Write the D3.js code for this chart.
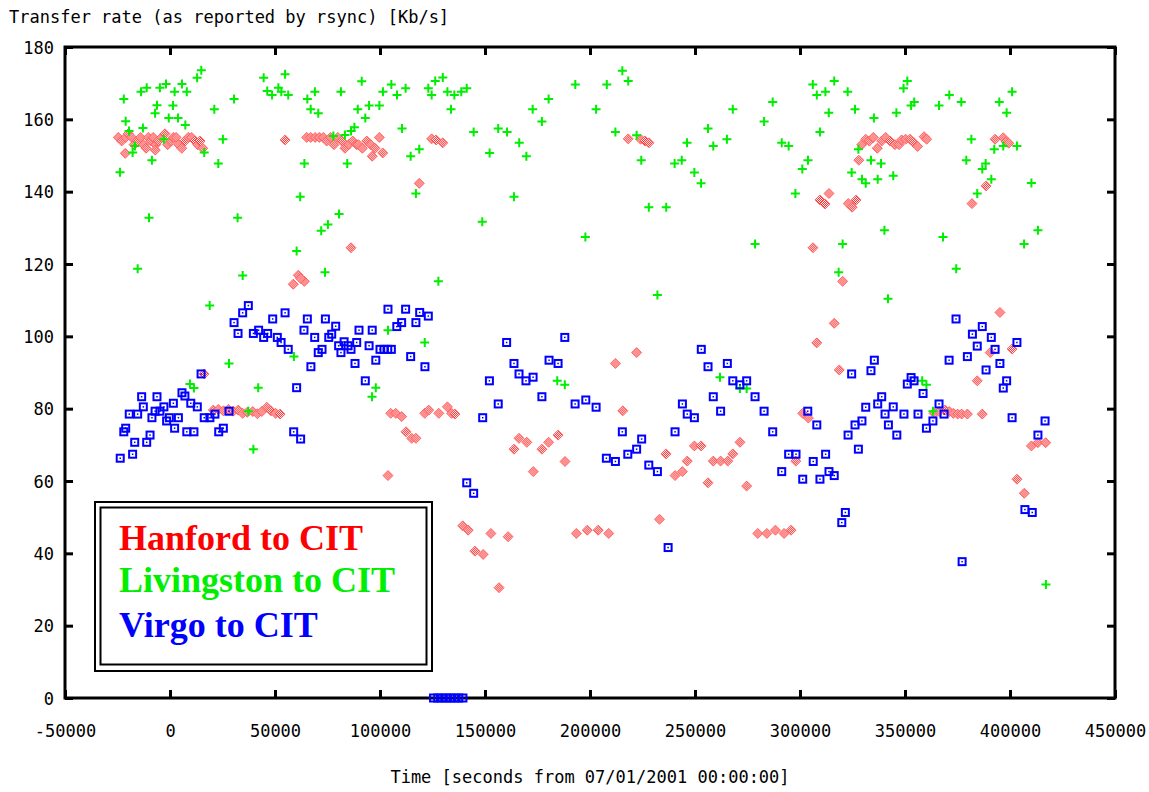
<!DOCTYPE html>
<html lang="en">
<head>
  <meta charset="UTF-8">
  <script src="https://d3js.org/d3.v7.min.js"></script>
  <title>Transfer rate</title>
  <style>
    body { margin: 0; background: #fff; }
    .mono { font-family: 'DejaVu Sans Mono', monospace; font-size: 17px; fill: #000; }
    .legend { font-family: 'Liberation Serif', 'Times New Roman', serif; font-weight: bold; font-size: 36px; }
  </style>
</head>
<body>
<svg width="1149" height="792"></svg>
<script>
// [time (s from 07/01/2001), rate (Kb/s)]
const hanford = [
  [-24600,155],[-23000,154],[-21100,155],[-19900,156],[-18200,155],[-17100,153],[-15600,154],[-14000,155],[-12700,153],[-11400,152],
  [-10300,155],[-9200,154],[-8000,155],[-6800,153],[-5600,154],[-4000,155],[-2400,156],[-1100,153],[300,154],[1600,155],
  [2900,155],[4100,153],[5600,152],[7100,154],[8700,155],[10300,155],[11900,154],[13200,153],[14300,154],[15600,152],
  [-21300,150.6],[-7000,151.5],[54800,154.3],
  [65100,155],[67000,155],[69100,155],[71100,155],[73000,155],[74600,154],[76500,155],[78100,153],[79900,155],[81800,154],
  [83300,152],[85100,153],[87000,154],[88900,153],[89700,153],[91600,152],[93700,154],[95600,153],[97600,152],[99700,155],
  [96300,149.8],[101300,150.7],[124600,154.6],[126700,154.3],[129900,153.5],[118700,142.3],[86200,124.5],
  [218200,154.6],[224100,154.5],[226200,154],[228100,153.5],[306200,124.5],[309500,137.7],[311900,136.6],[313800,139.5],
  [323000,136.7],[324800,135.7],[326700,137.7],[328000,148.7],
  [329400,153],[331300,154.5],[333000,154],[334900,155],[336800,152],[338900,154],[340800,155],[342900,154],[345200,153],
  [347200,153],[348400,154.3],[350300,154.5],[352400,154.5],[354300,153.5],[356000,152.5],[359100,155.2],[360300,154.5],
  [392900,154.5],[396800,154.9],[398200,153.8],[399400,153.4],[388600,141.6],[381900,136.7],
  [61100,116.9],[58700,114.4],[64000,115.2],[62200,116.0],[16200,89.6],
  [20600,79.6],[23000,79.8],[25400,79.4],[27800,79.8],[30100,79.3],[32500,79.6],[34600,78.7],[36800,79.0],[39400,79.2],
  [41600,78.6],[43700,79.2],[46100,80.4],[48100,79.4],[50300,78.7],[52400,78.5],
  [105100,78.7],[107500,78.7],[110300,77.8],[112400,73.6],[115100,71.8],[117100,71.8],[121300,78.7],[123200,79.6],
  [128000,78.7],[132100,80.5],[134100,78.7],[135700,78.5],[103800,61.5],[163800,68.8],[166200,71.8],[169900,70.7],
  [173000,62.6],[177100,68.8],[180300,70.7],[184800,72.7],[188100,65.4],[212100,92.5],[215600,79.4],
  [222200,95.5],[236200,67.5],[240500,61.5],[244000,62.6],[246300,65.5],[249700,69.7],[252900,69.7],[256200,59.5],
  [258700,65.5],[262200,65.5],[265600,65.5],[268000,67.5],[271400,70.7],[274600,58.6],[298000,65.5],[301300,78.7],
  [304000,77.4],[320300,115.2],[316300,103.6],[308000,98.2],[318700,90.7],
  [395200,106.6],[401000,96.5],[390600,95.5],[384400,87.7],[363800,78.7],[366300,79.2],[369100,79.6],[371100,79.2],
  [373000,78.7],[375100,78.5],[377000,78.5],[379700,78.5],[386800,78.5],[410200,69.7],[413300,70.6],[417000,70.6],
  [403300,60.5],[406800,56.6],
  [139400,47.6],[142000,46.4],[145200,40.6],[149100,39.7],[152800,45.5],[156700,30.5],[161000,44.6],[193500,45.5],
  [198700,46.4],[203900,46.4],[208900,45.5],[233100,49.4],[279900,45.5],[284200,45.5],[288300,46.4],[292400,45.5],[295700,46.4]
];

const livingston = [
  [-23800,145.4],[-22000,165.6],[-21100,159.5],[-19500,156.8],[-17800,150.8],[-16700,152.6],[-13800,167.6],[-12900,157.6],
  [-11100,168.7],[-10000,132.8],[-8600,148.7],[-7100,161.7],[-6200,163.9],[-4800,168.7],[-2900,154.5],[-1900,169.8],
  [-600,160.4],[1400,163.8],[2200,167.6],[3800,160.4],[5700,169.8],[7300,158.4],[8000,167.6],[12900,171.5],[14900,173.6],
  [16300,150.8],[21100,162.8],[23000,147.8],[25200,154.5],[30500,165.6],[32200,132.8],[44600,171.5],[46300,167.8],
  [48600,166.7],[51600,168.7],[53000,167.6],[54800,172.5],[56300,166.7],[60300,123.6],[62000,138.6],[64000,147.8],
  [65400,165.6],[67000,162.8],[69000,167.6],[70600,161.7],[72000,129.2],[75200,130.9],[77800,155.4],[80500,133.8],
  [81400,167.6],[83300,155.7],[84400,147.8],[86200,156.8],[87800,157.8],[89400,162.8],
  [-15400,118.7],[34600,116.8],[73800,117.7],[18900,108.5],[28100,92.5],[9500,86.8],[11400,85.7],[42000,85.8],[59000,94.4],
  [37300,79.3],[39700,68.8],
  [91300,170.5],[94800,163.8],[93000,160.4],[99700,163.8],[101400,167.6],[105400,169.6],[108100,166.7],[112200,168.6],
  [110500,157.5],[114600,149.8],[118700,151.7],[117100,139.5],[123000,168.6],[124600,166.7],[126300,170.6],[129900,171.6],
  [132100,167.6],[133800,162.8],[135400,166.7],[138700,167.6],[141300,168.6],[144600,156.5],[152200,150.7],[156300,157.5],
  [160500,156.5],[166300,153.5],[169700,149.8],[163800,138.6],[148700,131.7],[172700,162.8],[177100,159.4],[180300,165.6],
  [193000,169.6],[197800,127.5],[202900,162.8],[208000,169.6],[212100,156.5],[215400,173.4],[218200,170.6],
  [222200,155.6],[224400,148.7],[228000,135.7],[236300,135.7],[240300,147.8],[243700,148.7],[246200,153.5],[249700,145.3],
  [252900,142.3],[256200,157.5],[258700,152.6],[265200,154.5],[268000,162.8],[278600,125.5],[282900,159.4],[287000,164.8],
  [291300,153.5],[294600,152.6],[297800,139.5],[301100,146.3],[303800,148.7],[306100,169.6],[308000,166.7],[312100,167.6],
  [316300,170.6],[313700,161.8],[309500,156.5],[322700,167.6],[326200,162.8],[335200,160.4],[345900,161.8],[327800,151.7],
  [324600,145.3],[333800,148.7],[338600,147.8],[329500,143.4],[331300,142.3],[337000,143.4],[344400,144.4],[340200,129.3],
  [320300,125.5],
  [349300,168.6],[351100,170.6],[352900,163.8],[354400,164.8],[366200,163.8],[371100,166.7],[376800,164.8],[394900,164.8],
  [401000,167.6],[398400,161.8],[381600,154.5],[392500,151.7],[396800,152.6],[403300,152.6],[379200,148.7],[386800,146.3],
  [388400,147.8],[391100,143.4],[384400,139.5],[410200,142.4],[368100,127.5],[413300,129.3],[406700,125.5],
  [127800,115.2],[103800,101.7],[121300,98.3],[98000,85.8],[96200,83.3],[184400,87.7],[188000,86.6],
  [232100,111.4],[318400,117.7],[341900,110.4],[261900,88.7],[271400,85.6],[274600,85.6],
  [374400,118.7],[358200,87.7],[360200,86.6],[363300,79.3],[417100,31.4]
];

const virgo = [
  [-23700,66.3],[-17800,67.4],[-22000,73.6],[-21100,74.6],[-16800,70.7],[-19400,78.5],[-15400,78.5],[-13500,83.3],
  [-12700,80.5],[-11100,70.7],[-9500,72.7],[-8600,77.5],[-6200,83.3],[-7100,79.3],[-4800,79.3],[-2900,80.5],[-1600,76.6],
  [-300,77.5],[4000,77.5],[2200,74.6],[1600,81.5],[5700,84.4],[7100,83.5],[9900,81.5],[13000,80.5],[8000,73.6],[11400,73.6],
  [14800,89.6],[16300,77.5],[19000,77.5],[21400,78.5],[23200,73.6],[25400,74.6],[28100,79.3],[30500,103.8],[32400,100.8],
  [34600,106.5],[37300,108.5],[39700,100.8],[42200,101.7],[44600,99.7],[46500,100.8],[48900,104.8],[54800,106.5],
  [51100,99.7],[52900,98.3],[56300,96.4],[58900,73.6],[62200,71.6],[60300,85.8],[67100,91.6],[63800,101.7],[65400,104.8],
  [68900,99.7],[74000,104.8],[78900,102.8],[75600,99.7],[77000,100.6],[70600,95.5],[72400,96.4],[80300,97.4],[82900,98.5],
  [84800,97.4],[81400,95.5],[86200,96.4],[88100,92.5],[90000,101.7],[88900,98.3],
  [96300,101.7],[94800,97.4],[93000,87.7],[98000,93.4],[100000,96.4],[101900,96.4],[103700,96.4],[105400,96.4],
  [103800,107.5],[108000,102.7],[110300,103.8],[112200,107.5],[117100,103.8],[118900,106.6],[123000,105.6],[114600,94.4],
  [121400,91.6],[148900,77.5],[152100,87.7],[156300,81.3],[160300,98.3],[163800,92.5],[166200,89.6],[169500,87.7],
  [172900,88.7],[177100,83.3],[180500,93.4],[184800,92.5],[188000,99.7],[192900,81.3],[198000,82.4],[202900,80.4],
  [215400,73.6],[207800,66.3],[212100,65.4],[218000,67.4],[141300,59.5],[144600,56.6],
  [222200,68.8],[224600,71.6],[228000,64.4],[232100,62.6],[240500,73.6],[244000,81.3],[246300,78.5],[249700,77.5],
  [253000,96.4],[256200,91.6],[258700,83.3],[262200,79.3],[265400,92.5],[268000,87.7],[271400,86.6],[274600,87.7],
  [278600,83.3],[282900,79.3],[287000,73.6],[291300,62.6],[294600,67.4],[298100,67.4],[301300,60.5],[303700,79.3],
  [306300,65.4],[308000,75.5],[309500,60.5],[313800,62.6],[316300,61.5],[312200,67.4],[322900,72.7],[326200,75.5],
  [329500,76.6],[327800,68.8],[324600,89.6],[333800,90.5],[335400,93.4],[331300,80.4],[337000,81.3],[338900,83.3],
  [340500,78.5],[342100,75.5],[344400,80.5],[346100,72.7],
  [349500,78.5],[352900,88.6],[351100,86.8],[354300,87.7],[356200,78.5],[358600,84.2],[360200,74.6],[363300,76.6],
  [366200,81.3],[368600,78.5],[371000,93.4],[374300,104.8],[379700,94.4],[382100,100.6],[384400,97.3],[386800,102.7],
  [388600,90.7],[391100,99.7],[392900,96.4],[395200,92.5],[396800,85.7],[398400,87.7],[403300,98.3],[401000,77.5],
  [416700,76.6],[413300,72.7],
  [237200,41.6],[321600,51.3],[319900,48.5],[377200,37.7],[407100,52.1],[410600,51.3],
  [125500,0],[127500,0],[129500,0],[131500,0],[133500,0],[135500,0],[137500,0],[139500,0]
];

const legendItems = ["Hanford to CIT", "Livingston to CIT", "Virgo to CIT"];
const legendColors = ["#ff0000", "#00ee00", "#0000ff"];
const yTitle = "Transfer rate (as reported by rsync) [Kb/s]";
const xTitle = "Time [seconds from 07/01/2001 00:00:00]";

const svg = d3.select("svg");
const plotLeft = 65, plotRight = 1115, plotTop = 47, plotBottom = 698;

const x = d3.scaleLinear().domain([-50000, 450000]).range([plotLeft, plotRight]);
const y = d3.scaleLinear().domain([0, 180]).range([plotBottom, plotTop]);

// dither pattern for the Hanford diamonds
const defs = svg.append("defs");
const pat = defs.append("pattern").attr("id", "dither")
  .attr("width", 2).attr("height", 2).attr("patternUnits", "userSpaceOnUse");
pat.append("rect").attr("width", 2).attr("height", 2).attr("fill", "#fff");
pat.append("rect").attr("width", 1).attr("height", 1).attr("fill", "#ff2020");
pat.append("rect").attr("x", 1).attr("y", 1).attr("width", 1).attr("height", 1).attr("fill", "#ff2020");

// axes (inward ticks on all four sides)
const tickLen = 8;
const axB = svg.append("g").attr("transform", `translate(0,${plotBottom})`)
  .call(d3.axisBottom(x).ticks(10).tickSizeInner(-tickLen).tickSizeOuter(0).tickFormat(d => String(d)));
const axT = svg.append("g").attr("transform", `translate(0,${plotTop})`)
  .call(d3.axisTop(x).ticks(10).tickSizeInner(-tickLen).tickSizeOuter(0).tickFormat(""));
const axL = svg.append("g").attr("transform", `translate(${plotLeft},0)`)
  .call(d3.axisLeft(y).ticks(10).tickSizeInner(-tickLen).tickSizeOuter(0).tickFormat(d => String(d)));
const axR = svg.append("g").attr("transform", `translate(${plotRight},0)`)
  .call(d3.axisRight(y).ticks(10).tickSizeInner(-tickLen).tickSizeOuter(0).tickFormat(""));

[axB, axT, axL, axR].forEach(a => {
  a.select(".domain").remove();
  a.selectAll("line").attr("stroke", "#000").attr("stroke-width", 3);
});
axB.selectAll("text").attr("class", "mono").attr("y", 39).attr("dy", null)
  .style("font-family", "'DejaVu Sans Mono', monospace").style("font-size", "17px");
axL.selectAll("text").attr("class", "mono").attr("x", -11).attr("dy", "0.36em")
  .style("font-family", "'DejaVu Sans Mono', monospace").style("font-size", "17px");

// plot border
svg.append("rect")
  .attr("x", plotLeft).attr("y", plotTop)
  .attr("width", plotRight - plotLeft).attr("height", plotBottom - plotTop)
  .attr("fill", "none").attr("stroke", "#000").attr("stroke-width", 3);

// titles
svg.append("text").attr("class", "mono").attr("x", 9).attr("y", 23).text(yTitle);
svg.append("text").attr("class", "mono").attr("x", 590).attr("y", 783)
  .attr("text-anchor", "middle").text(xTitle);

// Hanford: dithered diamonds
svg.append("g").selectAll("path").data(hanford).join("path")
  .attr("transform", d => `translate(${x(d[0])},${y(d[1])})`)
  .attr("d", "M0,-5L5,0L0,5L-5,0Z")
  .attr("fill", "url(#dither)")
  .attr("stroke", "#ff5050").attr("stroke-width", 0.8);

// Livingston: plus signs
svg.append("g").selectAll("path").data(livingston).join("path")
  .attr("transform", d => `translate(${x(d[0])},${y(d[1])})`)
  .attr("d", "M-4.5,0H4.5M0,-4.5V4.5")
  .attr("stroke", "#00ee00").attr("stroke-width", 2).attr("fill", "none");

// Virgo: open squares with a centre dot
const vg = svg.append("g").selectAll("g").data(virgo).join("g")
  .attr("transform", d => `translate(${x(d[0])},${y(d[1])})`);
vg.append("rect").attr("x", -3.5).attr("y", -3.5).attr("width", 7).attr("height", 7)
  .attr("fill", "none").attr("stroke", "#0000ff").attr("stroke-width", 2);
vg.append("rect").attr("x", -0.75).attr("y", -0.75).attr("width", 1.5).attr("height", 1.5)
  .attr("fill", "#0000ff");

// legend box (double frame)
svg.append("rect").attr("x", 95).attr("y", 502).attr("width", 337).attr("height", 169)
  .attr("fill", "#fff").attr("stroke", "#000").attr("stroke-width", 2);
svg.append("rect").attr("x", 100.5).attr("y", 507.5).attr("width", 326).attr("height", 157)
  .attr("fill", "none").attr("stroke", "#000").attr("stroke-width", 2);
svg.append("g").selectAll("text").data(legendItems).join("text")
  .attr("class", "legend")
  .attr("x", 119)
  .attr("y", (d, i) => [550, 592, 637][i])
  .attr("fill", (d, i) => legendColors[i])
  .text(d => d);
</script>
</body>
</html>
